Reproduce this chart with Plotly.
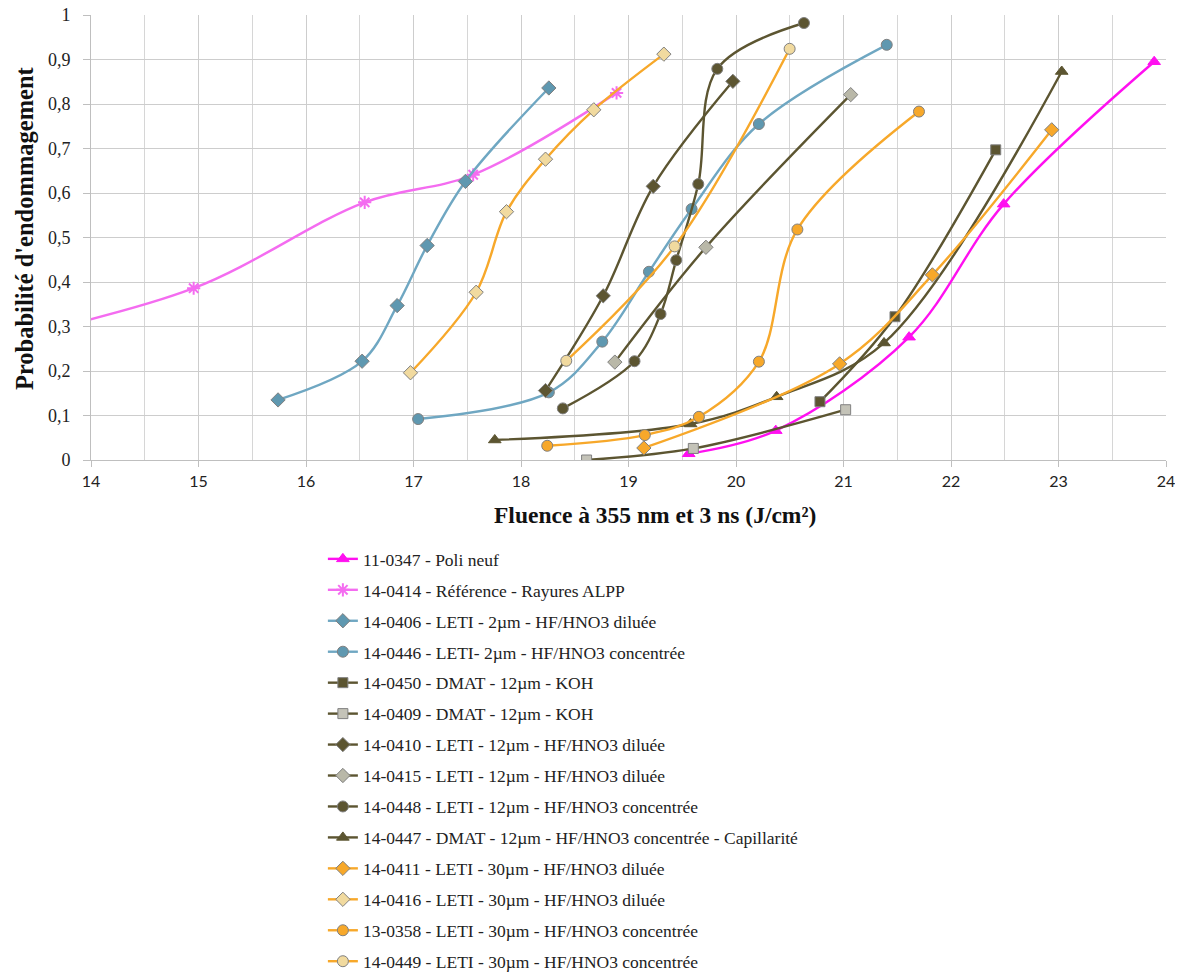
import plotly.graph_objects as go

# ---------------- data ----------------
names = [
    "11-0347 - Poli neuf",
    "14-0414 - Référence - Rayures ALPP",
    "14-0406 - LETI - 2µm - HF/HNO3 diluée",
    "14-0446 - LETI- 2µm - HF/HNO3 concentrée",
    "14-0450 - DMAT - 12µm - KOH",
    "14-0409 - DMAT - 12µm - KOH",
    "14-0410 - LETI - 12µm - HF/HNO3 diluée",
    "14-0415 - LETI - 12µm - HF/HNO3 diluée",
    "14-0448 - LETI - 12µm - HF/HNO3 concentrée",
    "14-0447 - DMAT - 12µm - HF/HNO3 concentrée - Capillarité",
    "14-0411 - LETI - 30µm - HF/HNO3 diluée",
    "14-0416 - LETI - 30µm - HF/HNO3 diluée",
    "13-0358 - LETI - 30µm - HF/HNO3 concentrée",
    "14-0449 - LETI - 30µm - HF/HNO3 concentrée",
]

x_11_0347 = [19.56, 20.37, 21.61, 22.49, 23.89]
y_11_0347 = [0.014, 0.066, 0.276, 0.575, 0.895]

x_14_0414 = [13.0, 14.955, 16.546, 17.555, 18.889]
y_14_0414 = [0.26, 0.386, 0.579, 0.641, 0.825]

x_14_0406 = [15.74, 16.522, 16.848, 17.127, 17.483, 18.259]
y_14_0406 = [0.135, 0.222, 0.347, 0.482, 0.626, 0.836]

x_14_0446 = [17.043, 18.259, 18.756, 19.19, 19.587, 20.213, 21.402]
y_14_0446 = [0.092, 0.152, 0.266, 0.423, 0.564, 0.755, 0.933]

x_14_0450 = [20.781, 21.479, 22.416]
y_14_0450 = [0.131, 0.322, 0.697]

x_14_0409 = [18.61, 19.603, 21.02]
y_14_0409 = [0.0, 0.026, 0.113]

x_14_0410 = [18.228, 18.765, 19.23, 19.971]
y_14_0410 = [0.156, 0.369, 0.615, 0.851]

x_14_0415 = [18.873, 19.72, 21.067]
y_14_0415 = [0.22, 0.478, 0.821]

x_14_0448 = [18.389, 19.056, 19.298, 19.444, 19.649, 19.826, 20.632]
y_14_0448 = [0.116, 0.222, 0.328, 0.449, 0.62, 0.879, 0.982]

x_14_0447 = [17.756, 19.578, 20.378, 21.377, 23.03]
y_14_0447 = [0.045, 0.081, 0.142, 0.263, 0.873]

x_14_0411 = [19.143, 20.964, 21.827, 22.937]
y_14_0411 = [0.027, 0.216, 0.416, 0.742]

x_14_0416 = [16.972, 17.583, 17.865, 18.228, 18.677, 19.329]
y_14_0416 = [0.196, 0.377, 0.558, 0.676, 0.787, 0.912]

x_13_0358 = [18.244, 19.152, 19.655, 20.213, 20.571, 21.702]
y_13_0358 = [0.032, 0.056, 0.097, 0.221, 0.518, 0.783]

x_14_0449 = [18.421, 19.429, 20.499]
y_14_0449 = [0.223, 0.48, 0.924]

xs = [x_11_0347, x_14_0414, x_14_0406, x_14_0446, x_14_0450, x_14_0409, x_14_0410,
      x_14_0415, x_14_0448, x_14_0447, x_14_0411, x_14_0416, x_13_0358, x_14_0449]
ys = [y_11_0347, y_14_0414, y_14_0406, y_14_0446, y_14_0450, y_14_0409, y_14_0410,
      y_14_0415, y_14_0448, y_14_0447, y_14_0411, y_14_0416, y_13_0358, y_14_0449]

x_ticks = list(range(14, 25))
y_ticks = [0, 0.1, 0.2, 0.3, 0.4, 0.5, 0.6, 0.7, 0.8, 0.9, 1]

x_title = "Fluence à 355 nm et 3 ns (J/cm²)"
y_title = "Probabilité d'endommagement"

# ---------------- styles ----------------
MAG = "#FF10F0"
PINK = "#F46CF0"
BLUE = "#6FA7C2"
BLUEM = "#5F98B0"
OLIVE = "#5C5531"
ORANGE = "#F7A82A"
LIGHT = "#F1DA9F"
GRAYF = "#B9B8A8"
HATCH = "#C4C3B8"
EDGE = "#808080"

styles = [
    dict(line=MAG, sym="triangle-up", fill=MAG, edge=MAG, size=11),
    dict(line=PINK, sym="asterisk-open", fill=PINK, edge=PINK, size=11),
    dict(line=BLUE, sym="diamond", fill=BLUEM, edge=EDGE, size=11),
    dict(line=BLUE, sym="circle", fill=BLUEM, edge=EDGE, size=11),
    dict(line=OLIVE, sym="square", fill=OLIVE, edge=EDGE, size=10),
    dict(line=OLIVE, sym="square", fill=HATCH, edge=EDGE, size=10),
    dict(line=OLIVE, sym="diamond", fill=OLIVE, edge=EDGE, size=11),
    dict(line=OLIVE, sym="diamond", fill=GRAYF, edge=EDGE, size=11),
    dict(line=OLIVE, sym="circle", fill=OLIVE, edge=EDGE, size=11),
    dict(line=OLIVE, sym="triangle-up", fill=OLIVE, edge=OLIVE, size=11),
    dict(line=ORANGE, sym="diamond", fill=ORANGE, edge=EDGE, size=11),
    dict(line=ORANGE, sym="diamond", fill=LIGHT, edge=EDGE, size=11),
    dict(line=ORANGE, sym="circle", fill=ORANGE, edge=EDGE, size=11),
    dict(line=ORANGE, sym="circle", fill=LIGHT, edge=EDGE, size=11),
]

fig = go.Figure()
for i, (n, x, y, s) in enumerate(zip(names, xs, ys, styles)):
    mline = dict(color=s["edge"], width=2 if s["sym"] == "asterisk-open" else 1)
    fig.add_trace(go.Scatter(
        x=x, y=y, name=n, mode="lines+markers",
        line=dict(color=s["line"], width=2.4, shape="spline", smoothing=1.0),
        marker=dict(symbol=s["sym"], size=s["size"], color=s["fill"], line=mline),
        legendgroup="g%d" % i,
    ))

SERIF = "Liberation Serif"
# the page body adds an 8px offset, so the figure is 8px smaller than the window
fig.update_layout(
    width=1175, height=966,
    margin=dict(l=83, r=17, t=7, b=514, autoexpand=False),
    paper_bgcolor="white", plot_bgcolor="white",
    separators=", ",
    showlegend=True,
    legend=dict(x=0.2157, y=-0.182, xanchor="left", yanchor="top",
                font=dict(family=SERIF, size=17.5, color="#222222"),
                tracegroupgap=5.2, itemwidth=30, bgcolor="rgba(0,0,0,0)"),
    xaxis=dict(
        range=[14, 24], tickvals=x_ticks, ticktext=[str(v) for v in x_ticks],
        automargin=False, ticklabeloverflow="allow",
        showgrid=True, gridcolor="#CDCDCD", gridwidth=1,
        minor=dict(dtick=0.5, tick0=14, showgrid=True, gridcolor="#D6D6D6", gridwidth=1),
        ticks="outside", ticklen=6, tickcolor="#BFBFBF",
        ticklabelstandoff=1,
        showline=True, linecolor="#BFBFBF",
        tickfont=dict(family="Lato", size=16, color="#222222"),
        zeroline=False,
    ),
    yaxis=dict(
        range=[0, 1], tickvals=y_ticks, tickformat=".1~f",
        automargin=False, ticklabeloverflow="allow",
        showgrid=True, gridcolor="#CDCDCD", gridwidth=1,
        ticks="outside", ticklen=7, tickcolor="#BFBFBF",
        ticklabelstandoff=9,
        showline=True, linecolor="#BFBFBF",
        tickfont=dict(family=SERIF, size=18, color="#222222"),
        zeroline=False,
    ),
    annotations=[
        dict(text="<b>%s</b>" % x_title, xref="paper", yref="paper",
             x=0.5247, y=-0.1236, xanchor="center", yanchor="middle", showarrow=False,
             font=dict(family=SERIF, size=23.5, color="#111111")),
        dict(text="<b>%s</b>" % y_title, xref="paper", yref="paper",
             x=-0.0623, y=0.5213, xanchor="center", yanchor="middle", showarrow=False,
             textangle=-90, font=dict(family=SERIF, size=24.5, color="#111111")),
    ],
)

fig.write_html("out.html")
